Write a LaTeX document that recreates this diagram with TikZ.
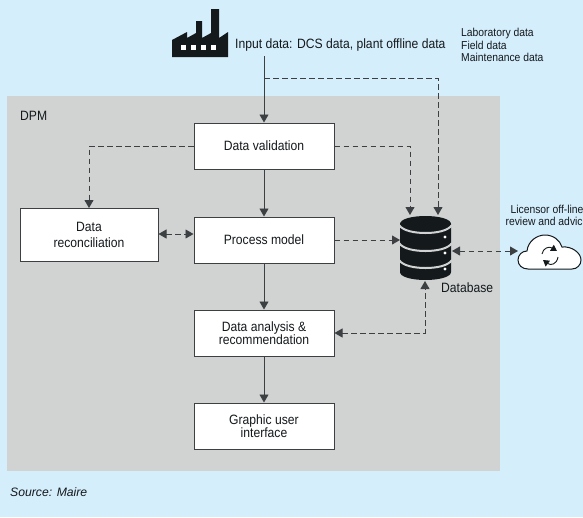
\documentclass[tikz,border=0pt]{standalone}
\usepackage{fontspec}
\setmainfont[FakeStretch=0.9]{Liberation Sans}
\newfontfamily\srcfont{Liberation Sans}
\usetikzlibrary{arrows.meta}

\definecolor{skybg}{HTML}{D5EEFC}
\definecolor{dpmgray}{HTML}{D1D3D3}
\definecolor{inkdark}{HTML}{14191C}
\definecolor{linedark}{HTML}{3C4042}

\begin{document}
\begin{tikzpicture}[x=1pt,y=-1pt,font=\fontsize{13.5}{12.5}\selectfont,text=inkdark]
    \tikzset{
        block/.style={
            draw=linedark,
            line width=1pt,
            fill=white,
            inner sep=0pt,
            minimum width=140pt,
            minimum height=46pt,
            align=center
        },
        note/.style={
            inner sep=0pt,
            align=left,
            anchor=west
        },
        small/.style={
            font=\fontsize{11.5}{12.5}\selectfont
        },
        flow/.style={
            draw=linedark,
            line width=0.9pt,
            -{Triangle[length=8pt,width=9pt]}
        },
        feed/.style={
            flow,
            dash pattern=on 5.5pt off 3.5pt
        },
        both/.style={
            feed,
            {Triangle[length=8pt,width=9pt]}-{Triangle[length=8pt,width=9pt]}
        },
        spin/.style={
            inkdark,
            line width=0.9pt,
            -{Triangle[length=6pt,width=7pt]}
        }
    }

    % background and frame
    \useasboundingbox (0,0) rectangle (583,517);
    \fill[skybg] (0,0) rectangle (583,517);
    \fill[dpmgray] (7,96) rectangle (500,471);
    \node[note] (dpm) at (20,116) {DPM};
    \node[note, font=\srcfont\fontsize{12.2}{13}\selectfont\itshape] (source) at (10,492) {Source: Maire};

    % blocks
    \node[block] (validation) at (264,146) {Data validation};
    \node[block] (model)      at (264,240) {Process model};
    \node[block] (analysis)   at (264,333) {Data analysis \&\\recommendation};
    \node[block] (gui)        at (264,426) {Graphic user\\interface};
    \node[block, minimum width=138pt, minimum height=53pt] (reconciliation) at (89,235) {Data\\[3.5pt]reconciliation};

    % factory
    \fill[inkdark] (172,40) -- (187,32) -- (187,38) -- (196,33) -- (196,21) -- (202,21)
        -- (202,38) -- (211,33) -- (211,9) -- (219,9) -- (219,38) -- (228,32) -- (228,57) -- (172,57) -- cycle;
    \foreach \wx in {181,191,201,211}
        \fill[white] (\wx,45) rectangle ++(5,5);
    \coordinate (plant) at (264,56);
    \coordinate (branch) at (264,78);
    \node[note] (input) at (235,45) {Input data: DCS data, plant offline data};
    \node[note, small] (other) at (461,45) {Laboratory data\\Field data\\Maintenance data};

    % database
    \fill[inkdark] (400,224) .. controls (400,219) and (412,216) .. (425.5,216)
        .. controls (439,216) and (451,219) .. (451,224) -- (451,272)
        .. controls (451,277) and (439,280) .. (425.5,280)
        .. controls (412,280) and (400,277) .. (400,272) -- cycle;
    \foreach \gy in {225,243,260}
        \draw[dpmgray, line width=2pt] (399,\gy) .. controls (403,\gy+6) and (415,\gy+8) .. (425.5,\gy+8)
            .. controls (436,\gy+8) and (448,\gy+6) .. (452,\gy);
    \foreach \dy in {237,253,269}
        \fill[white] (445,\dy) circle (1.6pt);
    \node[note] (database) at (441,288) {Database};
    \coordinate (dbtopa) at (410,215);
    \coordinate (dbtopb) at (438,215);
    \coordinate (dbleft) at (400,240);
    \coordinate (dbright) at (452,251);
    \coordinate (dbbottom) at (425,281);

    % cloud
    \draw[fill=white, draw=inkdark, line width=1pt] (528,269) .. controls (522,269) and (518,265) .. (518,260)
        .. controls (518,255) and (522,251) .. (527,251)
        .. controls (528,241) and (537,235) .. (545,235)
        .. controls (553,235) and (560,240) .. (562,247)
        .. controls (572,246) and (581,253) .. (581,260)
        .. controls (581,265) and (577,269) .. (572,269) -- cycle;
    \draw[spin] (542,254) .. controls (543,248) and (549,246) .. (557,251);
    \draw[spin] (558,257) .. controls (557,264) and (551,266) .. (543,260);
    \coordinate (cloudleft) at (518,251);
    \node[small, inner sep=0pt, align=center] (licensor) at (547,215.5) {Licensor off-line\\review and advice};

    % solid flow
    \draw[flow] (plant) -- (validation);
    \draw[flow] (validation) -- (model);
    \draw[flow] (model) -- (analysis);
    \draw[flow] (analysis) -- (gui);

    % dashed links
    \draw[feed] (branch) -| (dbtopb);
    \draw[feed] (validation.east) -| (dbtopa);
    \draw[feed] (validation.west) -| (reconciliation.north);
    \draw[feed] (model.east) -- (dbleft);
    \draw[both] (reconciliation.east |- 0,234) -- (model.west |- 0,234);
    \draw[both] (analysis.east) -| (dbbottom);
    \draw[both] (dbright) -- (cloudleft);
\end{tikzpicture}
\end{document}
